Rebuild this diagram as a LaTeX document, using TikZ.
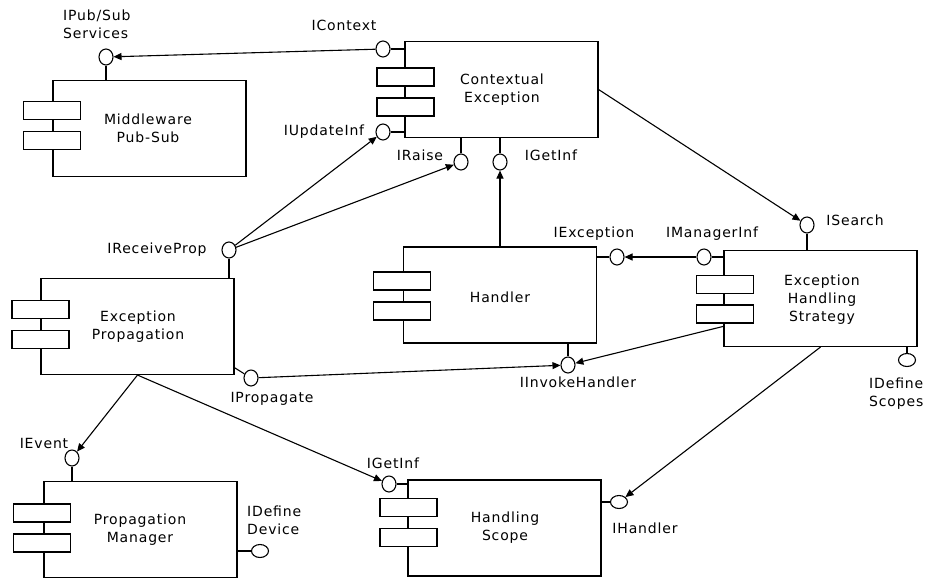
\documentclass[tikz,border=0pt]{standalone}
\usepackage{fontspec}
\setmainfont{DejaVu Sans}[LetterSpace=6]
\usetikzlibrary{shapes.geometric,arrows.meta}
\begin{document}
\begin{tikzpicture}[x=1pt,y=-1pt,
  comp/.style={draw,line width=1.1pt,minimum width=193pt,minimum height=96pt,inner sep=0},
  part/.style={draw,fill=white,line width=1.1pt,minimum width=57pt,minimum height=18pt,inner sep=0},
  lol/.style={draw,ellipse,fill=white,line width=1.1pt,minimum width=14pt,minimum height=16pt,inner sep=0},
  lolh/.style={lol,minimum width=17pt,minimum height=13pt},
  txt/.style={font=\fontsize{14}{18}\selectfont,align=center,inner sep=0},
  lbl/.style={font=\fontsize{14}{18}\selectfont,inner sep=0},
  stem/.style={line width=1.1pt},
  arr/.style={line width=1.1pt,-{Triangle[length=8pt,width=7pt]}}]
\useasboundingbox (0,0) rectangle (929,579);
% components
\node[comp] (mw) at (149.5,128.5) {};
\node[comp] (ce) at (501.5,89.5) {};
\node[comp] (hd) at (500,295) {};
\node[comp] (ehs) at (820.5,298.5) {};
\node[comp] (ep) at (137.5,326.5) {};
\node[comp] (pm) at (140.5,529.5) {};
\node[comp] (hs) at (504.5,528) {};
% parts
\node[part] (mwa) at (52,110.5) {};
\node[part] (mwb) at (52,140.5) {};
\node[part] (cea) at (405.5,77) {};
\node[part] (ceb) at (405.5,107) {};
\node[part] (hda) at (402,281) {};
\node[part] (hdb) at (402,311) {};
\node[part] (ehsa) at (725,284.5) {};
\node[part] (ehsb) at (725,314) {};
\node[part] (epa) at (40.5,309.5) {};
\node[part] (epb) at (40.5,339.5) {};
\node[part] (pma) at (42,513) {};
\node[part] (pmb) at (42,543) {};
\node[part] (hsa) at (408.5,507.5) {};
\node[part] (hsb) at (408.5,537.5) {};
% component texts
\node[txt] (mwt) at (148,128) {Middleware\\Pub-Sub};
\node[txt] (cet) at (502,90) {Contextual\\Exception};
\node[txt] (hdt) at (500,297) {Handler};
\node[txt] (ehst) at (822,300) {Exception\\Handling\\Strategy};
\node[txt] (ept) at (138,327) {Exception\\Propagation};
\node[txt] (pmt) at (140,530) {Propagation\\Manager};
\node[txt] (hst) at (505,528) {Handling\\Scope};
% lollipops
\node[lol] (ipub) at (106,57) {};
\node[lol] (ictx) at (383,49) {};
\node[lol] (iupd) at (383,132) {};
\node[lol] (irs) at (461,162) {};
\node[lol] (igi1) at (500,162) {};
\node[lol] (irp) at (229,250) {};
\node[lol] (iprop) at (251,378) {};
\node[lol] (iexc) at (617,257) {};
\node[lol] (iinv) at (568,365) {};
\node[lol] (isr) at (807,225) {};
\node[lol] (imi) at (704,257) {};
\node[lolh] (ids) at (907,360) {};
\node[lol] (iev) at (72,458) {};
\node[lolh] (idd) at (260,551) {};
\node[lol] (igi2) at (389,484) {};
\node[lolh] (ihd) at (619,502) {};
% stems
\draw[stem] (ipub) -- (ipub |- mw.north);
\draw[stem] (ictx) -- (ictx -| ce.west);
\draw[stem] (iupd) -- (iupd -| ce.west);
\draw[stem] (irs) -- (irs |- ce.south);
\draw[stem] (igi1) -- (igi1 |- ce.south);
\draw[stem] (irp) -- (irp |- ep.north);
\draw[stem] (iprop) -- (ep.-23);
\draw[stem] (iexc) -- (iexc -| hd.east);
\draw[stem] (iinv) -- (iinv |- hd.south);
\draw[stem] (isr) -- (isr |- ehs.north);
\draw[stem] (imi) -- (imi -| ehs.west);
\draw[stem] (ids) -- (ids |- ehs.south);
\draw[stem] (iev) -- (iev |- pm.north);
\draw[stem] (idd) -- (idd -| pm.east);
\draw[stem] (igi2) -- (igi2 -| hs.west);
\draw[stem] (ihd) -- (ihd -| hs.east);
% labels
\node[lbl,align=left,anchor=west] (lpub) at (63,24) {IPub/Sub\\Services};
\node[lbl] (lctx) at (344,25) {IContext};
\node[lbl] (lupd) at (324,132) {IUpdateInf};
\node[lbl] (lrs) at (420,155) {IRaise};
\node[lbl] (lgi1) at (551,155) {IGetInf};
\node[lbl] (lexc) at (594,234) {IException};
\node[lbl] (lmi) at (712,234) {IManagerInf};
\node[lbl] (lsr) at (855,220) {ISearch};
\node[lbl,align=left,anchor=west] (lds) at (869,394) {IDefine\\Scopes};
\node[lbl] (lrp) at (157,250) {IReceiveProp};
\node[lbl] (lprop) at (272,399) {IPropagate};
\node[lbl] (linv) at (578,382) {IInvokeHandler};
\node[lbl] (lev) at (44,443) {IEvent};
\node[lbl,align=left,anchor=west] (ldd) at (247,520) {IDefine\\Device};
\node[lbl] (lgi2) at (393,463) {IGetInf};
\node[lbl] (lhd) at (645,528) {IHandler};
% connectors
\draw[arr] (ictx) -- (ipub);
\draw[arr] (irp) -- (iupd);
\draw[arr] (irp) -- (irs);
\draw[arr] (hd.north) -- (igi1);
\draw[arr] (ce.east) -- (isr);
\draw[arr] (imi) -- (iexc);
\draw[arr] (ehs.196) -- (iinv);
\draw[arr] (iprop) -- (iinv);
\draw[arr] (ehs.south) -- (ihd);
\draw[arr] (ep.south) -- (iev);
\draw[arr] (ep.south) -- (igi2);
\end{tikzpicture}
\end{document}
